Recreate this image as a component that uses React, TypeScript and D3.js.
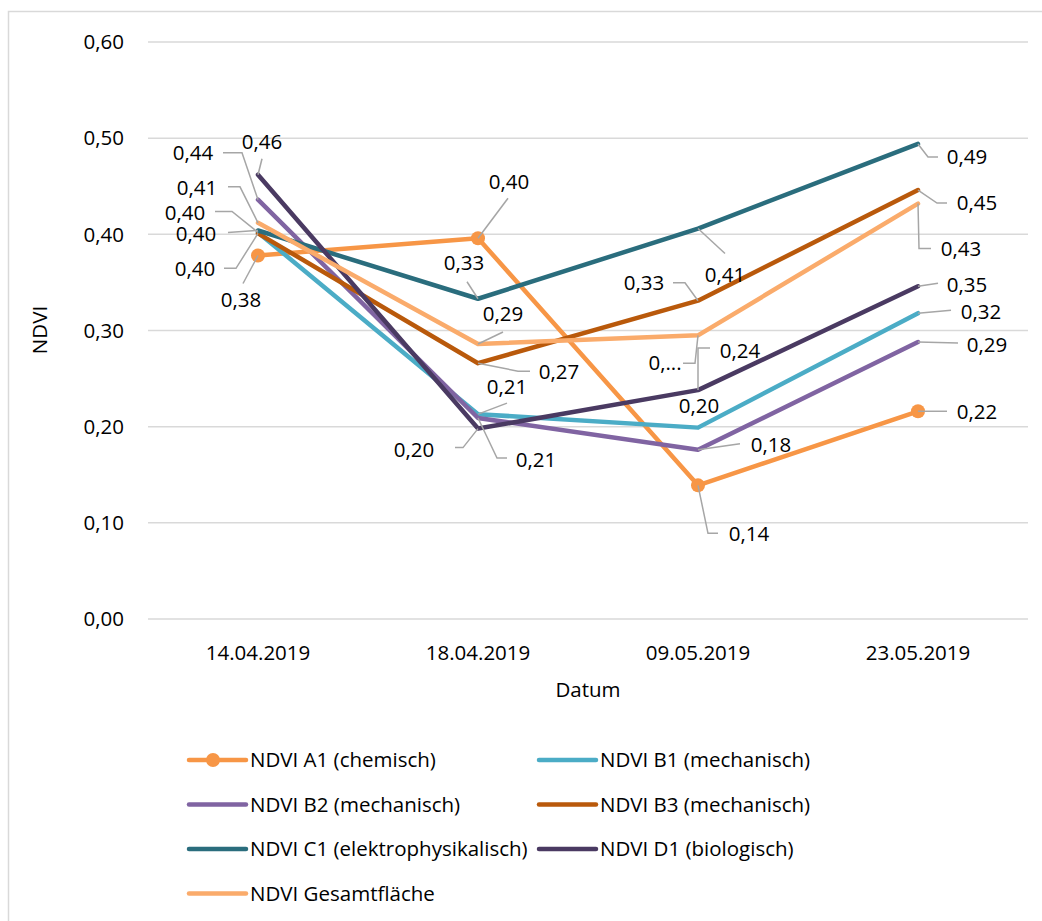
import React from "react";
import * as d3 from "d3";

const categories = ["14.04.2019", "18.04.2019", "09.05.2019", "23.05.2019"];
const yTicks = [0, 0.1, 0.2, 0.3, 0.4, 0.5, 0.6];

const seriesNames = [
  "NDVI A1 (chemisch)",
  "NDVI B1 (mechanisch)",
  "NDVI B2 (mechanisch)",
  "NDVI B3 (mechanisch)",
  "NDVI C1 (elektrophysikalisch)",
  "NDVI D1 (biologisch)",
  "NDVI Gesamtfläche",
];

const valuesA1 = [0.378, 0.396, 0.139, 0.216];
const valuesB1 = [0.402, 0.213, 0.199, 0.318];
const valuesB2 = [0.436, 0.209, 0.176, 0.288];
const valuesB3 = [0.401, 0.266, 0.331, 0.446];
const valuesC1 = [0.404, 0.333, 0.406, 0.494];
const valuesD1 = [0.462, 0.198, 0.238, 0.346];
const valuesG = [0.412, 0.286, 0.295, 0.432];

const seriesValues = [valuesA1, valuesB1, valuesB2, valuesB3, valuesC1, valuesD1, valuesG];
const seriesColors = ["#F79646", "#4BACC6", "#8064A2", "#B9590B", "#2A6D7D", "#4A3A62", "#FAAB6B"];
const seriesMarkers = [true, false, false, false, false, false, false];

// label layout: text offset from point, leader waypoints (relative to point), truncated flag
type LL = { t: [number, number]; w: [number, number][]; trunc?: boolean };
const labelLayout: LL[][] = [
  [
    { t: [-17, 44], w: [[-15, 28]] },
    { t: [31, -56], w: [[30, -40]] },
    { t: [51, 48], w: [[20, 48], [10, 48]] },
    { t: [59, 1], w: [[29, 0]] },
  ],
  [
    { t: [-73, -20], w: [[-43, -21], [-26, -21]] },
    { t: [29, -27], w: [[29, -11]] },
    { t: [1, -22], w: [] },
    { t: [63, -1], w: [[33, -3]] },
  ],
  [
    { t: [-65, -47], w: [[-35, -47], [-16, -47]] },
    { t: [58, 42], w: [[29, 40], [19, 40]] },
    { t: [73, -5], w: [[42, -6]] },
    { t: [69, 3], w: [[40, 1]] },
  ],
  [
    { t: [-63, 35], w: [[-34, 35], [-22, 35]] },
    { t: [81, 9], w: [[52, 8], [40, 8]] },
    { t: [-54, -18], w: [[-25, -18], [-13, -18]] },
    { t: [59, 13], w: [[29, 13], [19, 13]] },
  ],
  [
    { t: [-62, 3], w: [[-30, 2]] },
    { t: [-14, -36], w: [[-11, -17]] },
    { t: [27, 46], w: [[27, 25]] },
    { t: [49, 13], w: [[20, 13], [10, 13]] },
  ],
  [
    { t: [4, -33], w: [[4, -16]] },
    { t: [-64, 21], w: [[-23, 19], [-15, 19]] },
    { t: [42, -39], w: [[12, -42], [0, -42]] },
    { t: [49, -1], w: [[20, -3]] },
  ],
  [
    { t: [-61, -35], w: [[-30, -36], [-18, -36]] },
    { t: [25, -30], w: [[25, -12]] },
    { t: [-33, 28], w: [[-15, 28], [-3, 28]], trunc: true },
    { t: [43, 45], w: [[13, 45], [1, 45]] },
  ],
];

const FONT = "'Open Sans', sans-serif";
const FS = 20.5;

const fmt = (v: number) => v.toFixed(2).replace(".", ",");

export default function App() {
  const width = 1042;
  const height = 921;
  const x = d3.scaleBand<string>().domain(categories).range([148, 1028]);
  const cx = (c: string) => (x(c) as number) + x.bandwidth() / 2;
  const y = d3.scaleLinear().domain([0, 0.6]).range([619, 42]);
  const line = d3
    .line<number>()
    .x((_, i) => cx(categories[i]))
    .y((d) => y(d));

  const legendItems = seriesNames.map((name, i) => ({
    name,
    col: i % 2,
    row: Math.floor(i / 2),
  }));

  return (
    <svg width={width} height={height} style={{ display: "block", position: "absolute", left: 0, top: 0 }}>
      <rect x={0} y={0} width={width} height={height} fill="#fff" />
      <rect x={8.5} y={11.5} width={width + 20} height={height + 20} fill="none" stroke="#D9D9D9" strokeWidth={1.5} />
      {yTicks.map((t) => (
        <g key={t}>
          <line x1={148} x2={1028} y1={y(t)} y2={y(t)} stroke="#D9D9D9" strokeWidth={1.5} />
          <text x={124} y={y(t)} dy="0.35em" textAnchor="end" fontFamily={FONT} fontSize={FS} fill="#000">
            {fmt(t)}
          </text>
        </g>
      ))}
      {categories.map((c) => (
        <text key={c} x={cx(c)} y={653} dy="0.35em" textAnchor="middle" fontFamily={FONT} fontSize={FS} fill="#000">
          {c}
        </text>
      ))}
      <text x={588} y={690} dy="0.35em" textAnchor="middle" fontFamily={FONT} fontSize={FS} fill="#000">
        Datum
      </text>
      <text
        transform={`translate(40,330) rotate(-90)`}
        dy="0.35em"
        textAnchor="middle"
        fontFamily={FONT}
        fontSize={FS}
        fill="#000"
      >
        NDVI
      </text>

      {seriesValues.map((vals, si) => (
        <g key={si}>
          <path
            d={line(vals) || ""}
            fill="none"
            stroke={seriesColors[si]}
            strokeWidth={4.5}
            strokeLinejoin="round"
            strokeLinecap="round"
          />
          {seriesMarkers[si] &&
            vals.map((v, i) => (
              <circle key={i} cx={cx(categories[i])} cy={y(v)} r={7} fill={seriesColors[si]} />
            ))}
        </g>
      ))}

      {seriesValues.map((vals, si) =>
        vals.map((v, i) => {
          const px = cx(categories[i]);
          const py = y(v);
          const ll = labelLayout[si][i];
          const pts: [number, number][] = ll.w.map(([dx, dy]) => [px + dx, py + dy]);
          if (pts.length) pts.push([px, py]);
          return (
            <g key={`${si}-${i}`}>
              {pts.length > 0 && (
                <polyline
                  points={pts.map((p) => p.join(",")).join(" ")}
                  fill="none"
                  stroke="#A6A6A6"
                  strokeWidth={1.5}
                />
              )}
              <text
                x={px + ll.t[0]}
                y={py + ll.t[1]}
                dy="0.35em"
                textAnchor="middle"
                fontFamily={FONT}
                fontSize={FS}
                fill="#000"
              >
                {ll.trunc ? "0,..." : fmt(v)}
              </text>
            </g>
          );
        })
      )}

      {legendItems.map((it, i) => {
        const lx = it.col === 0 ? 189 : 539;
        const ly = 760 + it.row * 44.5;
        return (
          <g key={i}>
            <line x1={lx} x2={lx + 57} y1={ly} y2={ly} stroke={seriesColors[i]} strokeWidth={4.5} strokeLinecap="round" />
            {seriesMarkers[i] && <circle cx={lx + 24} cy={ly} r={7} fill={seriesColors[i]} />}
            <text x={lx + 61} y={ly} dy="0.35em" fontFamily={FONT} fontSize={FS} fill="#000">
              {it.name}
            </text>
          </g>
        );
      })}
    </svg>
  );
}
